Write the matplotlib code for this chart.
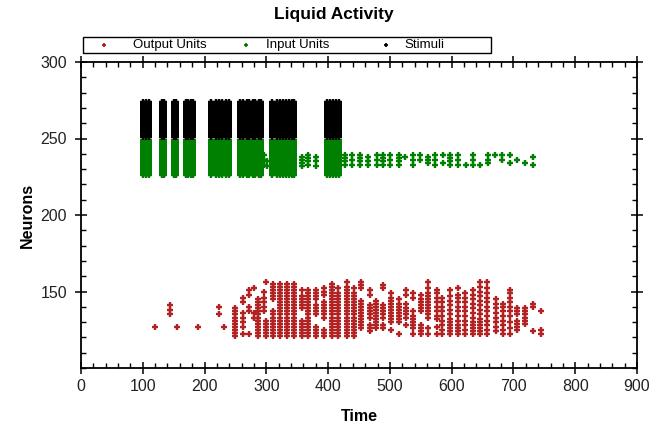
import matplotlib
matplotlib.use("Agg")
import matplotlib.pyplot as plt
from matplotlib.lines import Line2D
from matplotlib.patches import Rectangle
from matplotlib.ticker import MultipleLocator, FixedLocator

# ---------------- data ----------------
stimulus_times = [101, 105, 110, 131, 134, 150, 153, 170, 174, 178, 182,
                  211, 218, 224, 229, 234, 239,
                  258, 262, 269, 272, 279, 282, 288, 292,
                  309, 318, 322, 327, 332, 337, 341, 345,
                  398, 403, 408, 413, 417]
stimulus_neurons = list(range(251, 275))
input_neurons = list(range(226, 250))

input_extra_times = [297, 301, 357, 368, 380, 427, 438, 452, 465, 479, 489,
                     500, 514, 524, 538, 549, 562, 573, 586, 597, 611, 624,
                     635, 646, 659, 670, 681, 694, 705, 719, 732]
input_extra_neurons = [[233, 236, 239], [232, 235], [232, 234, 236, 238],
                       [233, 235, 237, 239], [232, 235, 238],
                       [233, 235, 237, 239], [233, 236, 239], [233, 235, 237, 239],
                       [233, 235, 238], [233, 236, 239], [233, 235, 237, 239],
                       [233, 236, 239], [233, 235, 237, 239], [238],
                       [233, 236, 239], [236, 239], [234, 236, 238],
                       [233, 236, 239], [234, 239], [233, 235, 237, 239],
                       [233, 236, 239], [233], [233, 236, 239], [233],
                       [234, 236, 239], [239], [236, 239], [234, 239], [236],
                       [234], [233, 238]]

output_times = [120, 144, 156, 189, 223, 231, 250, 262, 272, 280, 287, 296,
                299, 310, 322, 333, 345, 357, 368, 381, 394, 406, 416, 430,
                442, 454, 467, 477, 489, 502, 514, 526, 538, 550, 562, 576,
                585, 598, 611, 622, 634, 646, 658, 671, 683, 694, 706, 719,
                731, 745]
output_neurons = [
    [127], [135, 138, 141], [127], [127], [135, 140], [127],
    [121, 123, 125, 127, 129, 131, 133, 135, 137, 139],
    [122, 127, 130, 133, 136, 143, 146],
    [122, 137, 140, 148, 151],
    [133, 136, 152],
    [121, 123, 125, 127, 129, 131, 133, 135, 137, 139, 141, 143, 145],
    [137, 140, 143, 146, 150],
    [121, 123, 125, 127, 129, 131, 156],
    [121, 123, 125, 127, 129, 131, 133, 135, 137, 145, 147, 149, 151, 153, 155],
    [121, 123, 125, 127, 129, 131, 133, 135, 137, 139, 141, 143, 145, 147, 149, 151, 153, 155],
    [121, 123, 125, 127, 129, 131, 133, 135, 137, 139, 141, 143, 145, 147, 149, 151, 153, 155],
    [121, 123, 125, 127, 129, 131, 133, 135, 137, 139, 141, 143, 145, 147, 149, 151, 153, 155],
    [121, 123, 125, 127, 129, 131, 139, 141, 143, 145, 147, 151],
    [121, 123, 125, 127, 129, 131, 133, 135, 137, 139, 141, 143, 145, 147, 149, 151],
    [121, 123, 125, 127, 135, 137, 139, 141, 145, 147, 149, 151],
    [121, 123, 125, 133, 135, 137, 139, 141, 143, 148, 150, 152],
    [121, 123, 125, 127, 129, 131, 133, 135, 137, 139, 141, 143, 145, 147, 149, 151, 153, 155],
    [121, 123, 125, 127, 129, 131, 133, 135, 137, 139, 141, 143, 145, 147, 149, 152],
    [121, 123, 125, 127, 129, 131, 133, 135, 137, 139, 141, 143, 145, 147, 149, 151, 153, 156],
    [121, 123, 125, 127, 129, 131, 133, 135, 137, 139, 141, 143, 145, 147, 149, 152],
    [126, 128, 130, 132, 134, 136, 138, 140, 142, 144, 152, 154, 156],
    [124, 126, 128, 133, 135, 137, 139, 141, 148, 151],
    [126, 128, 130, 132, 134, 136, 138, 140, 142, 144],
    [126, 128, 133, 135, 137, 139, 141, 152, 154],
    [125, 130, 132, 134, 136, 138, 140, 142, 144, 146, 149],
    [122, 130, 132, 134, 136, 138, 140, 142, 145],
    [128, 133, 135, 137, 139, 142, 148, 151],
    [122, 126, 128, 130, 132, 134, 137, 146, 149],
    [122, 124, 126, 128, 137, 139, 141, 143, 145, 148],
    [122, 126, 133, 135, 137, 139, 141, 143, 145, 147, 149, 152, 156],
    [122, 127, 132, 134, 137, 140, 143, 146, 149, 151],
    [122, 125, 128, 131, 134, 137, 140, 143, 146],
    [122, 124, 126, 128, 130, 132, 135, 138, 141, 144, 147, 151],
    [122, 124, 126, 128, 131, 134, 137, 140, 143, 146, 148, 152],
    [122, 125, 128, 131, 134, 137, 140, 143, 146, 149],
    [122, 124, 126, 128, 130, 133, 136, 139, 142, 145, 148, 151],
    [122, 124, 126, 128, 130, 132, 135, 138, 141, 144, 147, 150, 153, 156],
    [122, 125, 128, 131, 134, 137, 140, 143, 146, 149, 152, 156],
    [124, 127, 130, 133, 136, 139, 142, 145],
    [122, 125, 128, 131, 134, 137, 140, 142],
    [122, 126, 130, 134, 137, 140, 143, 146, 149, 151],
    [125, 127, 129, 131, 135, 137, 139],
    [129, 131, 133, 135, 137, 139],
    [124, 140, 142],
    [122, 125, 137],
]

series_labels = ["Output Units", "Input Units", "Stimuli"]
series_colors = ["#b22222", "#008000", "#000000"]
x_ticks = [0, 100, 200, 300, 400, 500, 600, 700, 800, 900]
y_ticks = [150, 200, 250, 300]

# ---------------- build point lists ----------------
out_x, out_y = [], []
for t, ns in zip(output_times, output_neurons):
    for n in ns:
        out_x.append(t); out_y.append(n)

in_x, in_y = [], []
for t in stimulus_times:
    for n in input_neurons:
        in_x.append(t); in_y.append(n)
for t, ns in zip(input_extra_times, input_extra_neurons):
    for n in ns:
        in_x.append(t); in_y.append(n)

st_x, st_y = [], []
for t in stimulus_times:
    for n in stimulus_neurons:
        st_x.append(t); st_y.append(n)

# ---------------- figure ----------------
plt.rcParams["font.family"] = ["Liberation Sans", "DejaVu Sans"]
W, H = 662, 425

fig = plt.figure(figsize=(6.62, 4.25), dpi=100)
ax = fig.add_axes([81 / W, 1 - 368 / H, 556 / W, 306 / H])

mk = dict(linestyle="none", marker="+", markersize=4.4, markeredgewidth=1.7)
ax.plot(out_x, out_y, color=series_colors[0], **mk)
ax.plot(in_x, in_y, color=series_colors[1], **mk)
ax.plot(st_x, st_y, color=series_colors[2], **mk)

ax.set_xlim(0, 900)
ax.set_ylim(100, 300)
ax.xaxis.set_major_locator(FixedLocator(x_ticks))
ax.xaxis.set_minor_locator(MultipleLocator(20))
ax.yaxis.set_major_locator(FixedLocator(y_ticks))
ax.yaxis.set_minor_locator(MultipleLocator(10))

for s in ax.spines.values():
    s.set_linewidth(1.3)
    s.set_color("black")

ax.tick_params(which="both", top=True, right=True, color="black")
ax.tick_params(which="major", direction="inout", length=8, width=1.1)
ax.tick_params(which="minor", direction="in", length=3.5, width=1.0)
ax.tick_params(which="major", labelsize=11.5, labelcolor="#222222")
ax.tick_params(axis="x", which="major", pad=4)
ax.tick_params(axis="y", which="major", pad=6)

ax.set_xlabel("Time", fontsize=11.5, fontweight="bold", labelpad=11)
ax.set_ylabel("Neurons", fontsize=11.5, fontweight="bold", labelpad=4)
fig.text(334 / W, 1 - 14 / H, "Liquid Activity", ha="center", va="center",
         fontsize=12.5, fontweight="bold")

# legend box drawn in figure pixel positions
fig.add_artist(Rectangle((83 / W, 1 - 53 / H), 408 / W, 16 / H,
                         transform=fig.transFigure, fill=False,
                         edgecolor="black", linewidth=1.0))
marker_px = [104, 246, 386]
text_px = [133, 266, 404]
for lab, col, mx, tx in zip(series_labels, series_colors, marker_px, text_px):
    fig.add_artist(Line2D([mx / W], [1 - 45 / H], transform=fig.transFigure,
                          linestyle="none", marker="+", markersize=3,
                          markeredgewidth=1.3, color=col))
    fig.text(tx / W, 1 - 45 / H, lab, ha="left", va="center", fontsize=9.5)

fig.savefig("out.png", dpi=100)
